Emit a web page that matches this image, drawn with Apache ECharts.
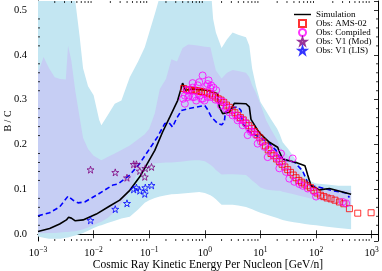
<!DOCTYPE html>
<html><head><meta charset="utf-8">
<script src="https://cdn.jsdelivr.net/npm/echarts@6/dist/echarts.min.js"></script>
<style>html,body{margin:0;padding:0;background:#fff}#c{width:382px;height:271px}</style>
</head><body><div id="c"></div>
<script>
// ---------- data ----------
const bandE = [0.001,0.00126,0.00158,0.002,0.00251,0.00316,0.00347,0.00398,0.00468,0.00562,0.00646,0.00794,0.01,0.0126,0.0138,0.0178,0.024,0.0316,0.0447,0.0631,0.0832,0.1,0.126,0.155,0.2,0.251,0.316,0.398,0.501,0.631,0.794,1,1.26,1.41,1.58,2.0,2.51,3.16,3.98,5.5,6.31,7.08,8.32,10,12.6,15.8,20,22.4,25.1,31.6,39.8,50.1,63.1,79.4,100,158,251,427];
const outerUpper = [0.56,0.56,0.56,0.56,0.56,0.56,0.56,0.56,0.52,0.44,0.37,0.33,0.31,0.255,0.243,0.265,0.291,0.298,0.35,0.385,0.417,0.45,0.491,0.53,0.56,0.56,0.56,0.56,0.56,0.56,0.56,0.56,0.56,0.48,0.45,0.415,0.435,0.45,0.445,0.439,0.42,0.37,0.33,0.295,0.275,0.255,0.235,0.222,0.205,0.19,0.172,0.155,0.135,0.118,0.113,0.111,0.108,0.108];
const outerLower = [-0.005,-0.008,-0.01,-0.01,-0.01,-0.008,-0.007,-0.005,-0.003,0.0,0.003,0.008,0.014,0.019,0.02,0.025,0.03,0.035,0.039,0.055,0.07,0.076,0.081,0.084,0.087,0.089,0.09,0.091,0.092,0.093,0.094,0.092,0.087,0.083,0.078,0.066,0.066,0.066,0.064,0.061,0.058,0.056,0.052,0.048,0.044,0.04,0.036,0.034,0.032,0.029,0.027,0.025,0.023,0.021,0.02,0.017,0.014,0.011];
const innerUpper = [0.36,0.395,0.37,0.35,0.346,0.345,0.42,0.387,0.32,0.26,0.215,0.19,0.175,0.168,0.165,0.172,0.18,0.188,0.198,0.212,0.223,0.235,0.27,0.324,0.346,0.39,0.385,0.415,0.423,0.422,0.42,0.418,0.417,0.39,0.365,0.347,0.36,0.366,0.364,0.36,0.35,0.332,0.315,0.29,0.255,0.232,0.21,0.195,0.188,0.175,0.16,0.14,0.12,0.11,0.106,0.103,0.1,0.097];
const innerLower = [0.002,0.002,0.003,0.003,0.004,0.005,0.005,0.006,0.007,0.009,0.011,0.015,0.02,0.026,0.028,0.036,0.05,0.068,0.095,0.142,0.153,0.158,0.158,0.159,0.16,0.16,0.161,0.162,0.164,0.165,0.165,0.163,0.155,0.15,0.143,0.133,0.134,0.134,0.133,0.132,0.126,0.12,0.113,0.104,0.1,0.098,0.097,0.097,0.095,0.092,0.089,0.086,0.083,0.08,0.077,0.072,0.066,0.06];

const simE = [0.001,0.00162,0.00245,0.00324,0.00355,0.00398,0.00468,0.00646,0.0112,0.0195,0.0295,0.0447,0.0676,0.0891,0.126,0.174,0.234,0.324,0.38,0.398,0.427,0.447,0.603,1.06,1.38,1.70,1.82,2.09,2.75,3.39,5.5,6.31,6.76,9.55,14.5,20.4,21.9,25.1,43.7,63.1,70.8,81.3,115,174,427];
const simBC = [0.006,0.013,0.023,0.032,0.038,0.036,0.030,0.032,0.045,0.063,0.076,0.098,0.128,0.154,0.187,0.228,0.261,0.298,0.328,0.337,0.328,0.321,0.324,0.321,0.317,0.313,0.284,0.269,0.272,0.292,0.291,0.284,0.256,0.226,0.205,0.194,0.184,0.168,0.160,0.153,0.132,0.108,0.099,0.102,0.089];

const dashE = [0.001,0.00162,0.00245,0.00347,0.00427,0.00525,0.00692,0.0112,0.0224,0.0275,0.0447,0.0676,0.102,0.141,0.191,0.229,0.263,0.309,0.380,0.501,1.0,1.12,1.32,1.70,2.0,2.24,2.34,2.75,3.89,4.47,4.79,6.31,9.55,14.5,19.1,21.9,28.8,40.7,57.5,70.8,81.3,115,200,347,398];
const dashBC = [0.041,0.048,0.061,0.085,0.076,0.070,0.072,0.087,0.110,0.112,0.132,0.158,0.191,0.217,0.247,0.248,0.239,0.258,0.276,0.280,0.287,0.278,0.261,0.247,0.244,0.250,0.272,0.280,0.284,0.276,0.247,0.228,0.217,0.202,0.187,0.172,0.165,0.161,0.141,0.115,0.108,0.105,0.097,0.092,0.082];

const amsE = [0.417,0.468,0.525,0.575,0.646,0.708,0.794,0.871,0.977,1.10,1.23,1.38,1.55,1.74,1.95,2.19,2.45,2.75,3.09,3.47,3.89,4.37,4.90,5.50,6.17,6.92,7.76,8.71,9.77,11.0,12.3,13.8,15.5,17.4,19.5,21.9,24.5,27.5,30.9,34.7,38.9,43.7,49.0,55.0,61.7,69.2,79.4,91.2,105,120,138,158,186,219,263,316,398,562,977];
const amsBC = [0.325,0.322,0.322,0.321,0.321,0.320,0.319,0.318,0.317,0.315,0.313,0.310,0.306,0.302,0.299,0.294,0.288,0.283,0.277,0.271,0.265,0.260,0.255,0.248,0.242,0.236,0.229,0.222,0.215,0.206,0.197,0.188,0.180,0.175,0.168,0.162,0.156,0.150,0.144,0.138,0.132,0.126,0.120,0.116,0.112,0.108,0.104,0.098,0.092,0.087,0.084,0.081,0.079,0.076,0.072,0.068,0.057,0.047,0.048];

const compE = [0.407,0.437,0.437,0.468,0.501,0.501,0.525,0.603,0.603,0.603,0.646,0.70,0.748,0.794,0.804,0.861,0.912,0.918,0.986,1.06,1.12,1.13,1.17,1.26,1.30,1.30,1.43,1.55,1.60,1.82,1.95,2.09,2.40,2.45,2.75,3.16,3.63,3.89,4.17,4.79,4.79,5.5,5.89,6.31,6.76,7.24,8.32,8.91,10.2,11.7,13.5,14.5,16.6,19.1,21.9,21.9,23.4,25.1,28.8,33.1,38.0,40.7,50.1,57.5,70.8,93.3,100,302,347];
const compBC = [0.302,0.291,0.309,0.322,0.306,0.321,0.309,0.327,0.337,0.306,0.306,0.298,0.332,0.339,0.309,0.302,0.354,0.302,0.298,0.330,0.335,0.306,0.343,0.325,0.306,0.332,0.327,0.300,0.321,0.298,0.287,0.296,0.280,0.284,0.272,0.265,0.265,0.254,0.258,0.243,0.254,0.247,0.221,0.235,0.228,0.228,0.221,0.202,0.206,0.195,0.172,0.191,0.180,0.172,0.165,0.147,0.180,0.162,0.139,0.124,0.169,0.117,0.112,0.108,0.102,0.095,0.084,0.072,0.069];

const v1E = [0.0088,0.0245,0.0398,0.0525,0.0589,0.0676,0.0832,0.0851,0.110];
const v1ModBC = [0.144,0.138,0.126,0.156,0.156,0.141,0.128,0.147,0.150];
const v1LisBC = [0.031,0.056,0.069,0.100,0.104,0.097,0.090,0.104,0.109];

const xMinorTicks = [0.002,0.003,0.004,0.005,0.006,0.007,0.008,0.009,0.02,0.03,0.04,0.05,0.06,0.07,0.08,0.09,0.2,0.3,0.4,0.5,0.6,0.7,0.8,0.9,2,3,4,5,6,7,8,9,20,30,40,50,60,70,80,90,200,300,400,500,600,700,800,900];
const yMinorTicks = [0.02,0.04,0.06,0.08,0.12,0.14,0.16,0.18,0.22,0.24,0.26,0.28,0.32,0.34,0.36,0.38,0.42,0.44,0.46,0.48];

const xTitle = 'Cosmic Ray Kinetic Energy Per Nucleon [GeV/n]';
const yTitle = 'B / C';
const legendNames = ['Simulation','Obs: AMS-02','Obs: Compiled','Obs: V1 (Mod)','Obs: V1 (LIS)'];

// ---------- chart ----------
const FONT = 'Liberation Serif';
const X_MIN = 0.001, X_MAX = 1300, Y_MIN = -0.015, Y_MAX = 0.52;
const zip = (a, b) => a.map((v, i) => [v, b[i]]);
const STAR = 'path://M50,0 L61.8,35.1 L97.6,35.1 L68.8,56.8 L79.4,90.9 L50,69.1 L20.6,90.9 L31.2,56.8 L2.4,35.1 L38.2,35.1 Z';
const SQUARE = 'path://M0,0 L10,0 L10,10 L0,10 Z';
const CIRCLE = 'path://M10,5 A5,5 0 1 1 0,5 A5,5 0 1 1 10,5 Z';
const LINEICON = 'path://M0,0 L40,0 L40,3.4 L0,3.4 Z';

function xFmt(v) {
  const l = Math.log10(v), n = Math.round(l);
  if (Math.abs(l - n) > 1e-6) return '';
  return '{b|10}{s|' + (n < 0 ? '\u2212' + (-n) : n) + '}';
}
function yFmt(v) {
  const r = Math.round(v * 10) / 10;
  if (Math.abs(v - r) > 1e-6) return '';
  return r.toFixed(1);
}
function bandSeries(name, lo, up, color, z) {
  return {
    type: 'custom', name: name, silent: true, clip: true, z: z,
    data: bandE.map((e, i) => [e, lo[i], up[i]]),
    renderItem: (p, api) => {
      if (p.dataIndex !== 0) return null;
      const pts = [];
      for (let i = 0; i < bandE.length; i++) pts.push(api.coord([bandE[i], up[i]]));
      for (let i = bandE.length - 1; i >= 0; i--) pts.push(api.coord([bandE[i], lo[i]]));
      return {type: 'polygon', shape: {points: pts}, style: {fill: color, stroke: null}};
    }
  };
}

const chart = echarts.init(document.getElementById('c'), null, {renderer: 'canvas'});
const tickStyle = {stroke: '#000', lineWidth: 0.8};
chart.setOption({
  animation: false,
  backgroundColor: '#fff',
  grid: {left: 38, right: 4, top: 1, bottom: 30, containLabel: false, outerBoundsMode: 'none'},
  xAxis: [{
    type: 'log', logBase: 10, min: X_MIN, max: X_MAX, position: 'bottom',
    name: xTitle, nameLocation: 'middle', nameGap: 18, nameMoveOverlap: false,
    nameTextStyle: {fontFamily: FONT, fontSize: 11.5, color: '#000'},
    axisLine: {show: true, lineStyle: {color: '#000', width: 1}},
    axisTick: {show: true, inside: true, length: 4, lineStyle: {color: '#000', width: 0.8}},
    splitLine: {show: false}, minorTick: {show: false},
    axisLabel: {formatter: xFmt, margin: 5, showMaxLabel: false, color: '#000',
      rich: {b: {fontFamily: FONT, fontSize: 10.5, color: '#000'}, s: {fontFamily: FONT, fontSize: 7.5, color: '#000', verticalAlign: 'top', padding: [0,0,7,0]}}}
  }, {
    type: 'log', logBase: 10, min: X_MIN, max: X_MAX, position: 'top',
    axisLine: {show: true, lineStyle: {color: '#000', width: 1}},
    axisTick: {show: true, inside: true, length: 4, lineStyle: {color: '#000', width: 0.8}},
    axisLabel: {show: false}, splitLine: {show: false}
  }],
  yAxis: [{
    type: 'value', min: Y_MIN, max: Y_MAX, position: 'left',
    name: yTitle, nameLocation: 'middle', nameGap: 25, nameMoveOverlap: false,
    nameTextStyle: {fontFamily: FONT, fontSize: 10, color: '#000'},
    axisLine: {show: true, lineStyle: {color: '#000', width: 1}},
    axisTick: {show: true, inside: true, length: 4, lineStyle: {color: '#000', width: 0.8}},
    splitLine: {show: false},
    axisLabel: {formatter: yFmt, margin: 11, fontFamily: FONT, fontSize: 10.5, color: '#000', showMinLabel: false, showMaxLabel: false}
  }, {
    type: 'value', min: Y_MIN, max: Y_MAX, position: 'right',
    axisLine: {show: true, lineStyle: {color: '#000', width: 1}},
    axisTick: {show: true, inside: true, length: 4, lineStyle: {color: '#000', width: 0.8}},
    splitLine: {show: false}, axisLabel: {show: false}
  }],
  legend: {
    data: [
      {name: legendNames[0], icon: LINEICON},
      {name: legendNames[1], icon: SQUARE},
      {name: legendNames[2], icon: CIRCLE},
      {name: legendNames[3], icon: STAR},
      {name: legendNames[4], icon: STAR}
    ],
    orient: 'vertical', left: 294, top: 10, padding: 0, symbolKeepAspect: true,
    itemWidth: 17, itemHeight: 7, itemGap: 0,
    textStyle: {fontFamily: FONT, fontSize: 9, color: '#000', lineHeight: 8}
  },
  series: [
    bandSeries('outer band', outerLower, outerUpper, '#c3e6f2', 1),
    bandSeries('inner band', innerLower, innerUpper, '#c6cef4', 2),
    {type: 'line', name: 'Model', data: zip(dashE, dashBC), symbol: 'none',
     lineStyle: {color: '#0000ff', width: 1.6, type: [5, 3]}, itemStyle: {color: '#0000ff'}, z: 5},
    {type: 'line', name: 'Simulation', data: zip(simE, simBC), symbol: 'none',
     lineStyle: {color: '#000', width: 1.6}, itemStyle: {color: '#000', borderWidth: 0}, z: 6},
    {type: 'scatter', name: 'Obs: AMS-02', data: zip(amsE, amsBC), symbol: 'rect', symbolSize: 6,
     itemStyle: {color: 'rgba(0,0,0,0)', borderColor: '#ff0000', borderWidth: 1}, z: 7},
    {type: 'scatter', name: 'Obs: Compiled', data: zip(compE, compBC), symbol: 'circle', symbolSize: 7,
     itemStyle: {color: 'rgba(0,0,0,0)', borderColor: '#ff00ff', borderWidth: 1}, z: 8},
    {type: 'scatter', name: 'Obs: V1 (Mod)', data: zip(v1E, v1ModBC), symbol: STAR, symbolSize: 7,
     itemStyle: {color: 'rgba(0,0,0,0)', borderColor: '#800080', borderWidth: 1}, z: 8},
    {type: 'scatter', name: 'Obs: V1 (LIS)', data: zip(v1E, v1LisBC), symbol: STAR, symbolSize: 7,
     itemStyle: {color: 'rgba(0,0,0,0)', borderColor: '#0000ff', borderWidth: 1}, z: 8},
    {type: 'custom', name: 'xminor', data: xMinorTicks.map(v => [v, 0]), silent: true, clip: false, z: 20,
     renderItem: (p, api) => {
       const e = api.value(0);
       const b = api.coord([e, Y_MIN]), t = api.coord([e, Y_MAX]);
       return {type: 'group', children: [
         {type: 'line', shape: {x1: b[0], y1: b[1], x2: b[0], y2: b[1] - 2}, style: tickStyle},
         {type: 'line', shape: {x1: t[0], y1: t[1], x2: t[0], y2: t[1] + 2}, style: tickStyle}]};
     }},
    {type: 'custom', name: 'yminor', data: yMinorTicks.map(v => [1, v]), silent: true, clip: false, z: 20,
     renderItem: (p, api) => {
       const v = api.value(1);
       const l = api.coord([X_MIN, v]), r = api.coord([X_MAX, v]);
       return {type: 'group', children: [
         {type: 'line', shape: {x1: l[0], y1: l[1], x2: l[0] + 2, y2: l[1]}, style: tickStyle},
         {type: 'line', shape: {x1: r[0], y1: r[1], x2: r[0] - 2, y2: r[1]}, style: tickStyle}]};
     }}
  ]
});
</script></body></html>
